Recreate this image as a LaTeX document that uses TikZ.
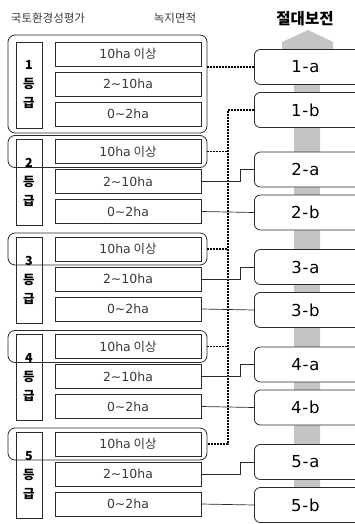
\documentclass[tikz,border=0pt]{standalone}
\usepackage{fontspec}
\setmainfont{Noto Sans CJK KR}
\newfontfamily\latinsans{DejaVu Sans}
\definecolor{linegray}{HTML}{2A2A2A}
\definecolor{textgray}{HTML}{3A3A3A}
\definecolor{arrowgray}{HTML}{C4C4C4}
\newcommand{\ha}[1]{{\latinsans #1}}
\newcommand{\tag}[2]{{\latinsans #1\kern0.8pt-\kern0.8pt#2}}
\tikzset{
  item/.style={draw=linegray, line width=0.8pt, fill=white, minimum width=146pt, minimum height=24pt,
    inner sep=0pt, font=\fontsize{12.5}{12.5}\selectfont, text=textgray},
  grade/.style={draw=linegray, line width=0.8pt, fill=white, minimum width=26pt, minimum height=86pt,
    inner sep=0pt},
  gradetext/.style={align=center, font=\fontsize{12.5}{19}\selectfont\bfseries},
  group/.style={draw=linegray, line width=0.8pt, rounded corners=7pt},
  target/.style={draw=linegray, line width=0.8pt, fill=white, rounded corners=6pt, minimum width=108pt,
    minimum height=35pt, inner sep=0pt, anchor=west},
  lbl/.style={font=\fontsize{16.5}{16.5}\selectfont, xshift=-3pt},
  dots/.style={line width=1.6pt, dash pattern=on 2pt off 1pt},
  link/.style={draw=linegray, line width=0.7pt},
}
\begin{document}
\begin{tikzpicture}[x=1pt, y=-1pt]
    \useasboundingbox (0,0) rectangle (354,524);

    % header
    \node[text=textgray, font=\fontsize{11.5}{11.5}\selectfont] (hgrade) at (48,18) {국토환경성평가};
    \node[text=textgray, font=\fontsize{11.5}{11.5}\selectfont] (harea) at (175,18) {녹지면적};
    \node[font=\fontsize{15.5}{15.5}\selectfont\bfseries] (hkeep) at (305,19) {절대보전};

    % gray arrow
    \fill[arrowgray] (308,30) -- (333,42) -- (333,55) -- (320,55) -- (320,495)
        -- (294,495) -- (294,55) -- (282,55) -- (282,42) -- cycle;

    % grade 1
    \draw[group] (8,35) rectangle (207,133);
    \coordinate (r1) at (207,84);
    \node[grade] (g1) at (29,85) {};
    \node[item] (g1a) at (128,54) {\ha{10ha} 이상};
    \node[item] (g1b) at (128,84) {\ha{2\textasciitilde10ha}};
    \node[item] (g1c) at (128,114) {\ha{0\textasciitilde2ha}};
    \node[gradetext] at (g1) {1\\등\\급};

    % grades 2-5
    \foreach \g/\t in {2/139.5, 3/237, 4/334.5, 5/432} {
        \node[grade] (g\g) at (29,\t+43) {};
        \node[item] (g\g a) at (128,\t+12) {\ha{10ha} 이상};
        \node[item] (g\g b) at (128,\t+42) {\ha{2\textasciitilde10ha}};
        \node[item] (g\g c) at (128,\t+72) {\ha{0\textasciitilde2ha}};
        \draw[group] (8,\t-4) rectangle (207,\t+28);
        \coordinate (r\g) at (207,\t+12);
        \node[gradetext] at (g\g) {\g\\등\\급};
    }

    % right boxes
    \node[target] (a1) at (254,67) {};
    \node[target] (b1) at (254,110) {};
    \node[target] (a2) at (254,169.5) {};
    \node[target] (b2) at (254,212.5) {};
    \node[target] (a3) at (254,267) {};
    \node[target] (b3) at (254,310) {};
    \node[target] (a4) at (254,364.5) {};
    \node[target] (b4) at (254,407.5) {};
    \node[target] (a5) at (254,462) {};
    \node[target] (b5) at (254,505) {};
    \foreach \n/\i/\k in {a1/1/a, b1/1/b, a2/2/a, b2/2/b, a3/3/a, b3/3/b,
                      a4/4/a, b4/4/b, a5/5/a, b5/5/b}
        \node[lbl] at (\n) {\tag{\i}{\k}};

    % links
    \coordinate (bus) at (228,0);
    \coordinate (jog) at (240,0);
    \draw[dots] (a1.west) -- (a1.west -| r1);
    \draw[dots] (b1.west) -| (r5 -| bus) -- (r5);
    \draw[dots] (r2) -- (r2 -| bus);
    \draw[dots] (r3) -- (r3 -| bus);
    \draw[dots] (r4) -- (r4 -| bus);
    \foreach \g in {2,3,4,5} {
        \draw[link] (g\g b.east) -- (g\g b.east -| jog) |- (a\g.west);
        \draw[link] (g\g c.east) -- (b\g.west);
    }
\end{tikzpicture}
\end{document}
